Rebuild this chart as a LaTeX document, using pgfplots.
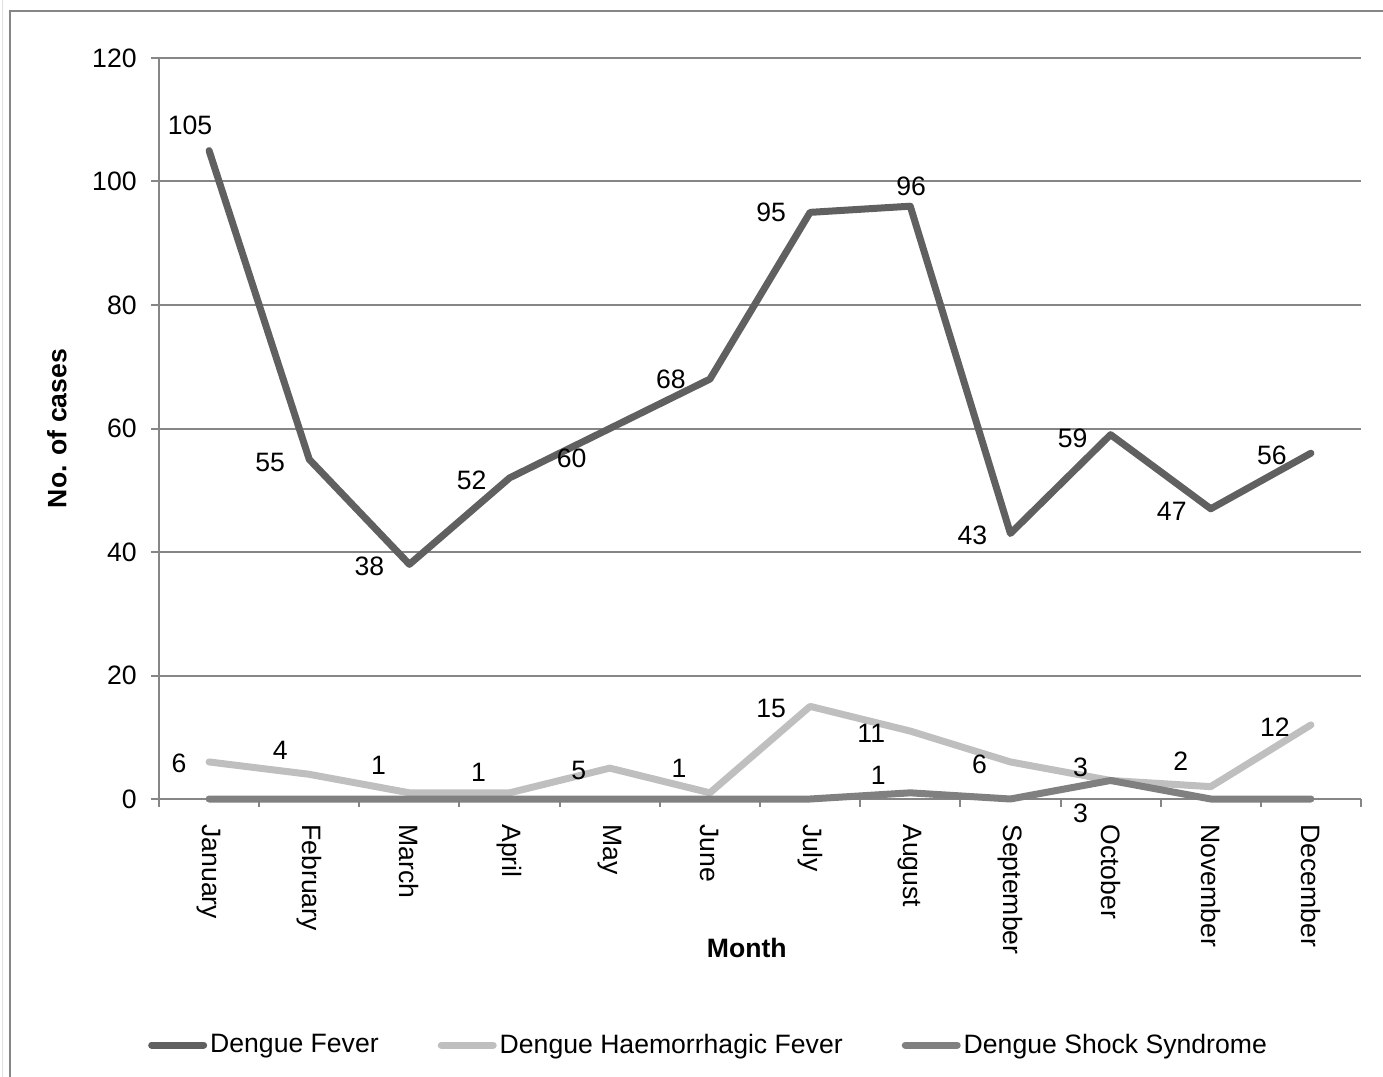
\documentclass[border=0pt]{standalone}
\usepackage{pgfplots}
\pgfplotsset{compat=1.18}
\usepackage{pgfplotstable}
\usepackage{fontspec}
\setmainfont{Liberation Sans}

\definecolor{dfcol}{RGB}{96,96,96}
\definecolor{dhfcol}{RGB}{191,191,191}
\definecolor{dsscol}{RGB}{128,128,128}
\definecolor{gridcol}{RGB}{134,134,134}

% month, cases, label offset x/y (pt)
\pgfplotstableread{
x y lx ly
1 105 -9.5 12.5
2 55 -19.5 -1.5
3 38 -20 -1
4 52 -19 -1
5 60 -19 -15
6 68 -19.5 0
7 95 -19.5 0
8 96 0.5 10
9 43 -19 -1
10 59 -19 -2
11 47 -19.5 -1.5
12 56 -19.5 -1
}\dftable

\pgfplotstableread{
x y lx ly
1 6 -15 -0.5
2 4 -14.5 12
3 1 -15.5 13.5
4 1 -15.5 10
5 5 -15.5 -1
6 1 -15.5 12
7 15 -19.5 -1
8 11 -19.5 -1
9 6 -15.5 -1
10 3 -15 6.5
11 2 -15 12.5
12 12 -18 -1
}\dhftable

\pgfplotstableread{
x y
1 0
2 0
3 0
4 0
5 0
6 0
7 0
8 1
9 0
10 3
11 0
12 0
}\dsstable

% only the non-zero shock syndrome values carry a label
\pgfplotstableread{
x y lx ly
8 1 -16 8.5
10 3 -15 -16.5
}\dsslabels

\pgfplotsset{
  lbl/.style={
    point meta=explicit,
    visualization depends on={\thisrow{lx} \as \lblx},
    visualization depends on={\thisrow{ly} \as \lbly},
    nodes near coords={\pgfmathprintnumber{\pgfplotspointmeta}},
    every node near coord/.append style={anchor=center, inner sep=0pt, text=black,
      xshift=\lblx pt, yshift=\lbly pt},
  },
}

\begin{document}
\begin{tikzpicture}[font=\fontsize{13.3}{16}\selectfont]
\useasboundingbox (-79.5pt,-139pt) rectangle (612pt,399.5pt);
\draw[gridcol, line width=1.3pt] (-74.5pt,-145pt) -- (-74.5pt,394pt) -- (620pt,394pt);
\draw[black!12, line width=0.5pt] (-78pt,-145pt) -- (-78pt,400pt);
\begin{axis}[
  at={(0pt,0pt)}, anchor=south west,
  scale only axis, width=601pt, height=370.5pt,
  clip=false,
  xmin=0.5, xmax=12.5, ymin=0, ymax=120,
  axis lines=left,
  axis line style={-, gridcol, line width=1pt},
  ytick={0,20,...,120},
  ymajorgrids,
  major grid style={gridcol, line width=1pt},
  tick align=outside,
  major tick length=4pt,
  minor tick length=4pt,
  ytick style={gridcol, line width=1pt},
  xtick={1,...,12},
  xticklabels={January,February,March,April,May,June,July,August,September,October,November,December},
  major x tick style={draw=none},
  minor xtick={0.5,1.5,...,12.5},
  minor x tick style={gridcol, line width=1pt},
  xticklabel style={rotate=-90, anchor=west, inner sep=0pt},
  xticklabel shift=8.5pt,
  yticklabel style={anchor=east, inner sep=0pt},
  /pgf/number format/assume math mode=true,
  yticklabel shift=7pt,
  xlabel={\bfseries Month},
  xlabel style={at={(axis description cs:0.489,-0.201)}, anchor=center},
  ylabel={\bfseries No. of cases},
  ylabel style={at={(axis description cs:-0.0849,0.5)}, anchor=center},
  legend columns=3,
  legend style={draw=none, fill=none, at={(axis description cs:0.4576,-0.332)}, anchor=center,
    /tikz/every even column/.append style={column sep=28pt},
    nodes={inner sep=1.5pt}},
  legend image code/.code={\draw[#1, line width=3.5pt, line cap=round] (0pt,0pt) -- (26pt,0pt);},
  every axis plot/.append style={line width=3.5pt, line cap=round, line join=round},
]
\addplot[dfcol, lbl] table[x=x, y=y, meta=y] {\dftable};
\addlegendentry{Dengue Fever}
\addplot[dhfcol, lbl] table[x=x, y=y, meta=y] {\dhftable};
\addlegendentry{Dengue Haemorrhagic Fever}
\addplot[dsscol] table[x=x, y=y] {\dsstable};
\addlegendentry{Dengue Shock Syndrome}
\addplot[draw=none, forget plot, lbl] table[x=x, y=y, meta=y] {\dsslabels};
\end{axis}
\end{tikzpicture}
\end{document}
